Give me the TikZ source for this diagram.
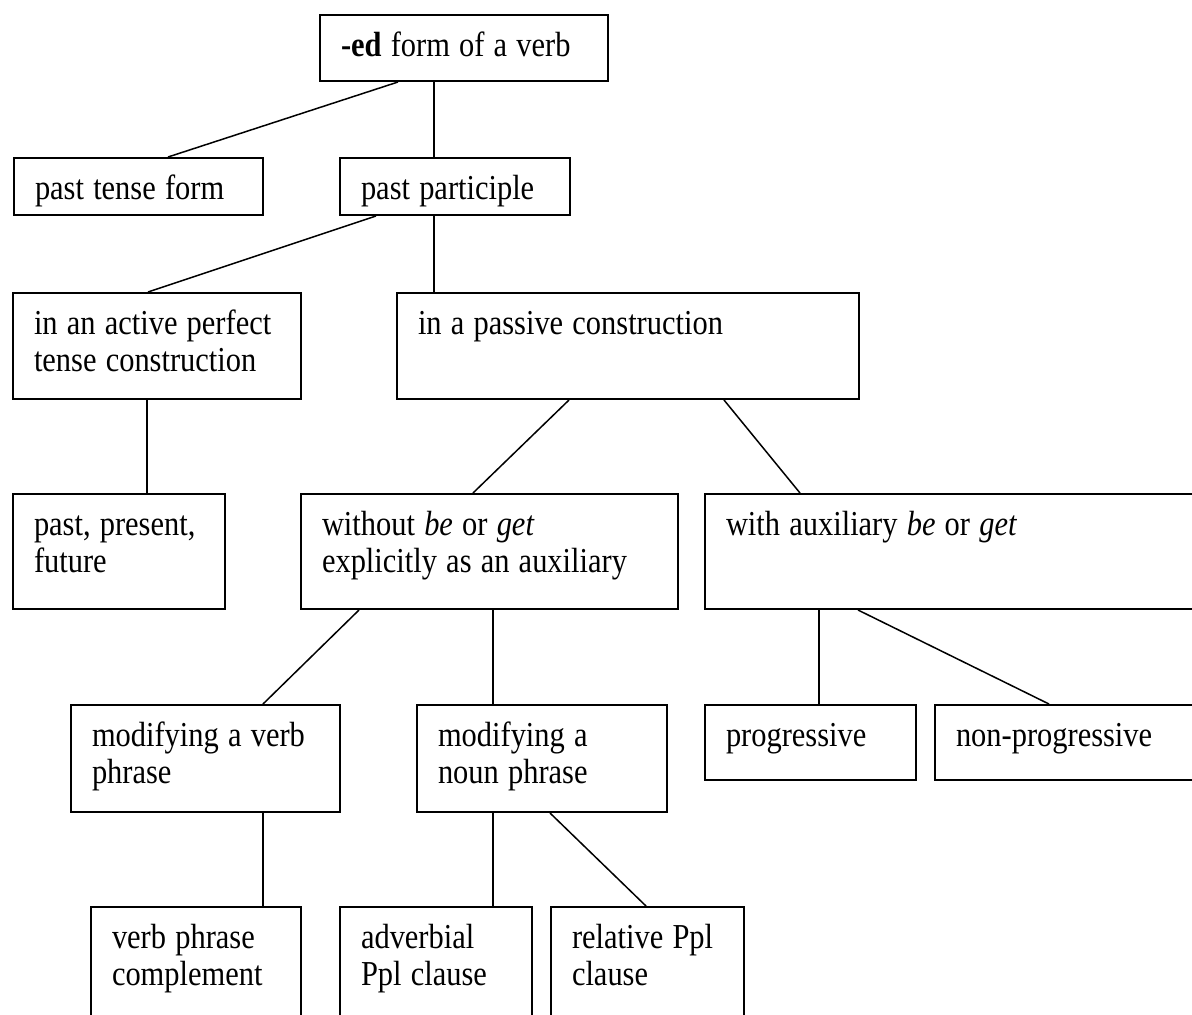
\documentclass[tikz,border=0pt]{standalone}
\usepackage{fontspec}
\setmainfont{Liberation Serif}[FakeStretch=0.87]
\usepackage{tikz}
\tikzstyle{block} = [draw, line width=1pt, rectangle, anchor=north west,
inner xsep=10.5pt, inner ysep=0pt, text height=20.5pt, align=left,
font=\fontsize{17.5}{18.5}\selectfont,
execute at begin node={\hyphenpenalty=10000\spaceskip=4.6pt}]
\tikzstyle{branch} = [draw, line width=0.75pt]

\begin{document}
\begin{tikzpicture}[x=0.5pt, y=-0.5pt]
	% The frame is fixed; boxes at the right and bottom run past it
	\useasboundingbox (0,0) rectangle (1192,1014);
	\clip (0,0) rectangle (1192,1014);
	% We start by placing the blocks, row by row
	\node [block, text width=123pt, text depth=12.5pt] (form) at (319,14) {\textbf{-ed} form of a verb};
	\node [block, text width=103.5pt, text depth=8pt] (pasttense) at (13,157) {past tense form};
	\node [block, text width=94pt, text depth=8pt] (participle) at (339,157) {past participle};
	\node [block, text width=123pt, text depth=32.5pt] (active) at (12,292) {in an active perfect\\tense construction};
	\node [block, text width=210pt, text depth=32.5pt] (passive) at (396,292) {in a passive construction};
	\node [block, text width=85pt, text depth=37pt] (tenses) at (12,493) {past, present,\\future};
	\node [block, text width=167.5pt, text depth=37pt] (without) at (300,493) {without \emph{be} or \emph{get}\\explicitly as an auxiliary};
	\node [block, text width=232pt, text depth=37pt] (withaux) at (704,493) {with auxiliary \emph{be} or \emph{get}};
	\node [block, text width=113.5pt, text depth=33pt] (verbmod) at (70,704) {modifying a verb\\phrase};
	\node [block, text width=104pt, text depth=33pt] (nounmod) at (416,704) {modifying a\\noun phrase};
	\node [block, text width=84.5pt, text depth=17pt] (prog) at (704,704) {progressive};
	\node [block, text width=117pt, text depth=17pt] (nonprog) at (934,704) {non-progressive};
	\node [block, text width=84pt, text depth=41.5pt] (complement) at (90,906) {verb phrase\\complement};
	\node [block, text width=75pt, text depth=41.5pt] (adverbial) at (339,906) {adverbial\\Ppl clause};
	\node [block, text width=75.5pt, text depth=41.5pt] (relative) at (550,906) {relative Ppl\\clause};

	% Once the blocks are placed, the branches join them edge to edge
	\draw [branch] ([xshift=39.5pt]form.south west) -- ([xshift=77.5pt]pasttense.north west);
	\draw [branch] ([xshift=57.5pt]form.south west) -- ([xshift=47.5pt]participle.north west);
	\draw [branch] ([xshift=18.5pt]participle.south west) -- ([xshift=68pt]active.north west);
	\draw [branch] ([xshift=47.5pt]participle.south west) -- ([xshift=19pt]passive.north west);
	\draw [branch] ([xshift=67.5pt]active.south west) -- ([xshift=67.5pt]tenses.north west);
	\draw [branch] ([xshift=86.5pt]passive.south west) -- ([xshift=86.5pt]without.north west);
	\draw [branch] ([xshift=164pt]passive.south west) -- ([xshift=48pt]withaux.north west);
	\draw [branch] ([xshift=29.5pt]without.south west) -- ([xshift=96.5pt]verbmod.north west);
	\draw [branch] ([xshift=96.5pt]without.south west) -- ([xshift=38.5pt]nounmod.north west);
	\draw [branch] ([xshift=57.5pt]withaux.south west) -- ([xshift=57.5pt]prog.north west);
	\draw [branch] ([xshift=77pt]withaux.south west) -- ([xshift=57.5pt]nonprog.north west);
	\draw [branch] ([xshift=96.5pt]verbmod.south west) -- ([xshift=86.5pt]complement.north west);
	\draw [branch] ([xshift=38.5pt]nounmod.south west) -- ([xshift=77pt]adverbial.north west);
	\draw [branch] ([xshift=67pt]nounmod.south west) -- ([xshift=48pt]relative.north west);
\end{tikzpicture}
\end{document}
